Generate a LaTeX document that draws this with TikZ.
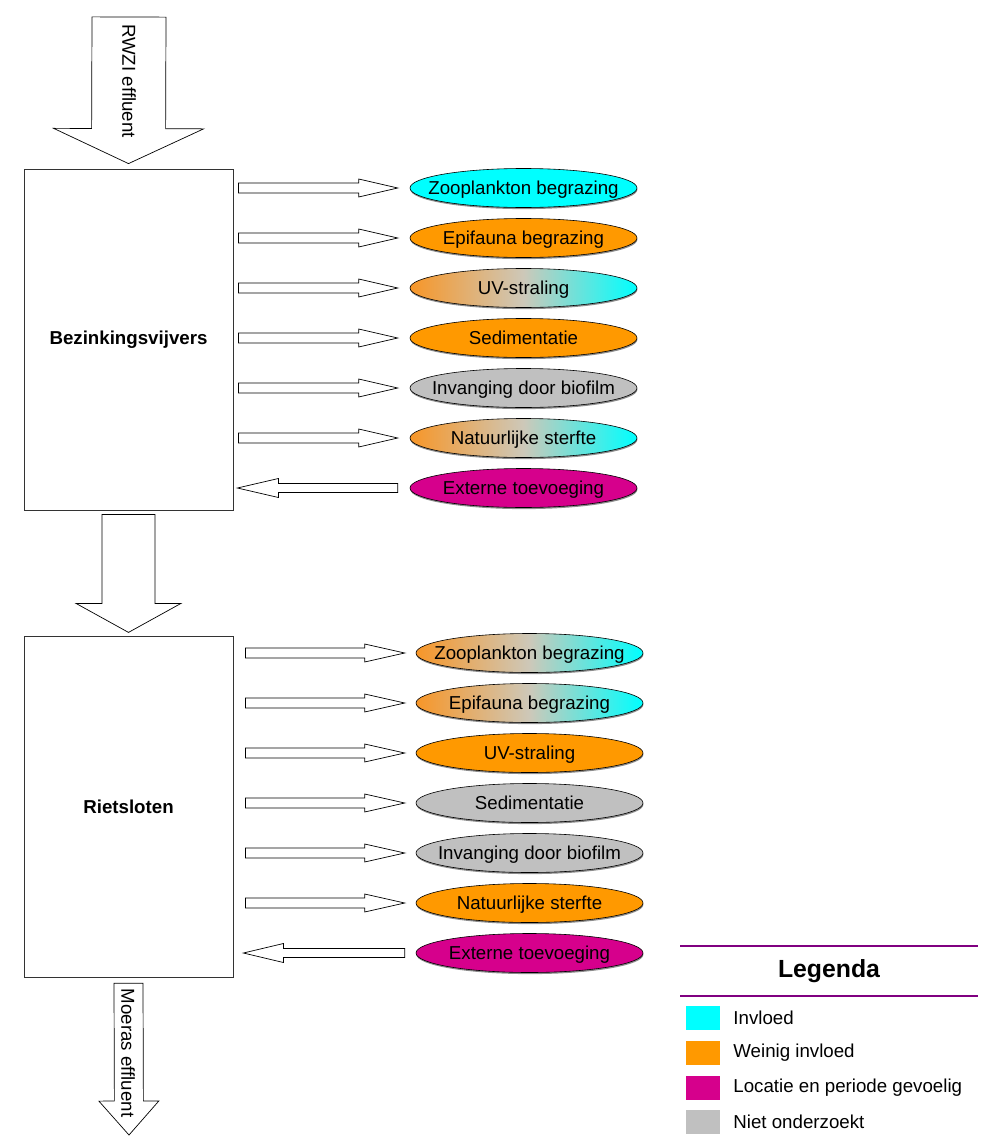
\documentclass[tikz,border=0pt]{standalone}
\usepackage{fontspec}
\setmainfont{Liberation Sans}
\usetikzlibrary{calc,positioning,shapes.geometric,shadows}

\definecolor{invloed}{RGB}{0,255,255}
\definecolor{weinig}{RGB}{255,153,0}
\definecolor{gevoelig}{RGB}{214,0,140}
\definecolor{nietond}{RGB}{192,192,192}
\definecolor{legpaars}{RGB}{128,0,128}
\definecolor{mixoranje}{RGB}{247,150,40}
\definecolor{mixgrijs}{RGB}{205,200,185}
\pgfdeclarehorizontalshading{mengsel}{100bp}{color(0bp)=(mixoranje); color(25bp)=(mixoranje);
  color(50bp)=(mixgrijs); color(75bp)=(invloed); color(100bp)=(invloed)}

\begin{document}
\begin{tikzpicture}[
    x=1pt, y=-1pt,
    font=\fontsize{18.7}{22}\selectfont,
    vak/.style={draw=black!80, line width=0.8pt, minimum width=209pt, minimum height=341pt,
                font=\fontsize{18.7}{22}\selectfont\bfseries},
    ell/.style={ellipse, draw, line width=0.6pt, minimum width=227pt, minimum height=39pt, inner sep=0pt,
                text height=13.4pt, text depth=0pt,
                drop shadow={shadow xshift=0.4pt, shadow yshift=-1.6pt, opacity=0.6, fill=black!75}},
    inv/.style={fill=invloed},
    weinig/.style={fill=weinig},
    loc/.style={fill=gevoelig},
    niet/.style={fill=nietond},
    mix/.style={shading=mengsel},
    blk/.style n args={3}{draw, line width=0.7pt, fill=white, to path={
        let \p1=(\tikztostart), \p2=(\tikztotarget), \p3=($(\tikztotarget)!#3!(\tikztostart)$) in
        ($(\p1)!#1!90:(\p2)$) -- ($(\p3)!#1!-90:(\p1)$) -- ($(\p3)!#2!-90:(\p1)$) -- (\p2)
        -- ($(\p3)!#2!90:(\p1)$) -- ($(\p3)!#1!90:(\p1)$) -- ($(\p1)!#1!-90:(\p2)$) -- cycle}},
    vlabel/.style={rotate=-90, inner sep=0pt},
    swatch/.style={minimum width=34pt, minimum height=24pt, inner sep=0pt},
    legtxt/.style={anchor=west, inner sep=0pt},
    legline/.style={draw=legpaars, line width=2.7pt}]
  \useasboundingbox (0,0) rectangle (982,1137);

  % the two stages
  \node[vak] (b1) at (128.5,339.5) {Bezinkingsvijvers};
  \node[vak, below=126pt of b1] (b2) {Rietsloten};
  \coordinate (instroom) at (129,17);
  \coordinate (uitstroom) at (129,1135);

  % processes
  \foreach \tekst/\kleur [count=\i] in {Zooplankton begrazing/inv, Epifauna begrazing/weinig,
      UV-straling/mix, Sedimentatie/weinig, Invanging door biofilm/niet,
      Natuurlijke sterfte/mix, Externe toevoeging/loc}
    \node[ell, \kleur] (bz\i) at (523.5, {138+50*\i}) {\makebox[0pt]{\tekst}};
  \foreach \tekst/\kleur [count=\i] in {Zooplankton begrazing/mix, Epifauna begrazing/mix,
      UV-straling/weinig, Sedimentatie/niet, Invanging door biofilm/niet,
      Natuurlijke sterfte/weinig, Externe toevoeging/loc}
    \node[ell, \kleur] (rs\i) at (529.5, {603+50*\i}) {\makebox[0pt]{\tekst}};

  % flows
  \draw[blk={37pt}{75pt}{35pt}] (instroom) to ($(b1.north)+(0,-5)$);
  \draw[blk={26.5pt}{52.5pt}{29pt}] ($(b1.south)+(0,4)$) to ($(b2.north)+(0,-4)$);
  \draw[blk={14.5pt}{30pt}{34pt}] ($(b2.south)+(0,5)$) to (uitstroom);
  \foreach \i in {1,...,6} {
    \draw[blk={5pt}{9pt}{39pt}] ($(b1.east |- bz\i)+(5,0)$) to ($(bz\i.west)+(-12,0)$);
    \draw[blk={5pt}{9pt}{40pt}] ($(b2.east |- rs\i)+(12,0)$) to ($(rs\i.west)+(-11,0)$);
  }
  \draw[blk={4.5pt}{9.5pt}{41pt}] ($(bz7.west)+(-12,0)$) to ($(b1.east |- bz7)+(4,0)$);
  \draw[blk={4.5pt}{9.5pt}{40pt}] ($(rs7.west)+(-11,0)$) to ($(b2.east |- rs7)+(10,0)$);

  \node[vlabel] (rwzi) at (129,81) {RWZI effluent};
  \node[vlabel] (moeras) at (128,1053) {Moeras effluent};

  % legenda
  \node[font=\fontsize{24.8}{28}\selectfont\bfseries] (leg) at (829,971) {Legenda};
  \draw[legline] (680,946) -- (978,946);
  \draw[legline] (680,996) -- (978,996);
  \node[swatch, fill=invloed] (sw1) at (703,1018) {};
  \node[swatch, fill=weinig] (sw2) at (703,1053) {};
  \node[swatch, fill=gevoelig] (sw3) at (703,1088) {};
  \node[swatch, fill=nietond] (sw4) at (703,1122) {};
  \node[legtxt, right=13pt of sw1] (lt1) {Invloed};
  \node[legtxt, right=13pt of sw2] (lt2) {Weinig invloed};
  \node[legtxt, right=13pt of sw3] (lt3) {Locatie en periode gevoelig};
  \node[legtxt, right=13pt of sw4] (lt4) {Niet onderzoekt};
\end{tikzpicture}
\end{document}
